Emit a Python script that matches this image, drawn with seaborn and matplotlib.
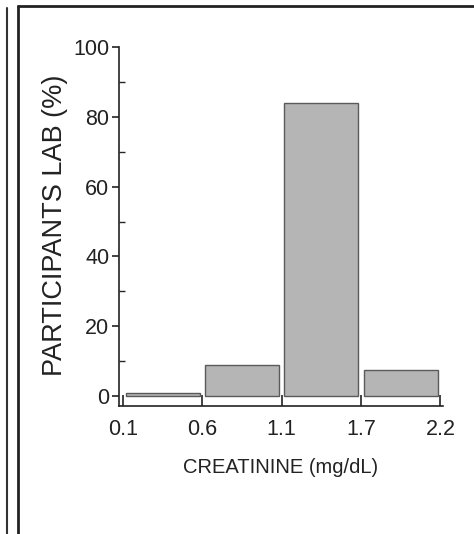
import numpy as np
import pandas as pd
import matplotlib
matplotlib.use('Agg')
import matplotlib.pyplot as plt
from matplotlib.lines import Line2D
from matplotlib.ticker import MultipleLocator
import seaborn as sns

# creatinine bins (mg/dL) and % of participant labs per bin
bin_edges = ['0.1', '0.6', '1.1', '1.7', '2.2']
percent = [0.8, 9, 84, 7.5]

df = pd.DataFrame({'pos': np.arange(len(percent)) + 0.5, 'pct': percent})

sns.set_style('white')
plt.rcParams['font.family'] = ['Liberation Sans', 'DejaVu Sans']

fig = plt.figure(figsize=(4.74, 5.34), dpi=100)
ax = fig.add_axes([0.2511, 0.2397, 0.683, 0.672])

sns.histplot(data=df, x='pos', weights='pct', bins=len(percent),
             binrange=(0, len(percent)), shrink=0.93, color='#b5b5b5',
             edgecolor='#5a5a5a', linewidth=1.0, alpha=1, ax=ax)

ax.set_xlim(-0.05, 4.03)
ax.set_ylim(-2.9, 100)
ax.set_xticks(np.arange(len(bin_edges)))
ax.set_xticklabels(bin_edges)
ax.set_yticks(np.arange(0, 101, 20))
ax.yaxis.set_minor_locator(MultipleLocator(10))

sns.despine(ax=ax)
for s in ['left', 'bottom']:
    ax.spines[s].set_color('#222222')
    ax.spines[s].set_linewidth(1.2)

ax.tick_params(axis='x', direction='in', length=8, width=1.2, pad=9,
               labelsize=15.5, bottom=True, colors='#222222')
ax.tick_params(axis='y', which='major', direction='out', length=5, width=1.2,
               pad=2, labelsize=15.5, left=True, colors='#222222')
ax.tick_params(axis='y', which='minor', direction='in', length=4, width=1,
               left=True)

ax.set_xlabel('CREATININE (mg/dL)', fontsize=14.5, labelpad=13, color='#222222')
ax.set_ylabel('PARTICIPANTS LAB (%)', fontsize=19.5, color='#222222')
ax.yaxis.set_label_coords(-0.158, 0.504)

# scanned figure frame
fig.add_artist(Line2D([18 / 474, 18 / 474], [0, 1 - 6 / 534],
                      transform=fig.transFigure, color='#222222', lw=2))
fig.add_artist(Line2D([18 / 474, 1], [1 - 6 / 534, 1 - 6 / 534],
                      transform=fig.transFigure, color='#222222', lw=2))
fig.add_artist(Line2D([7 / 474, 7 / 474], [0, 1 - 8 / 534],
                      transform=fig.transFigure, color='#333333', lw=1.5))

fig.savefig('out.png', dpi=100)
